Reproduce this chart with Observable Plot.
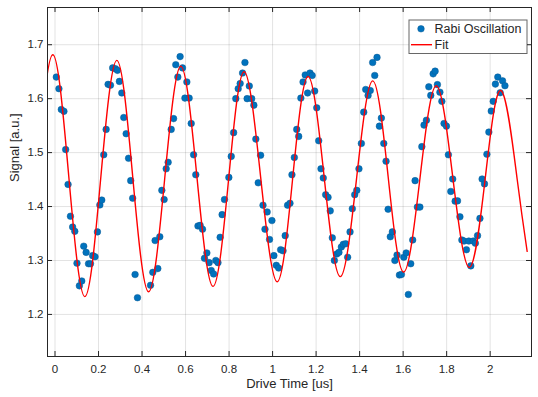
<!DOCTYPE html>
<html>
<head>
<meta charset="utf-8">
<script src="https://cdn.jsdelivr.net/npm/d3@7"></script>
<script src="https://cdn.jsdelivr.net/npm/@observablehq/plot@0.6"></script>
<style>
  html, body { margin: 0; padding: 0; background: #ffffff; }
  svg { display: block; }
</style>
</head>
<body>
<div id="chart"></div>
<script>
const driveTime = [
  0.006,0.018,0.029,0.041,0.049,0.060,0.071,0.081,0.091,0.101,0.112,0.123,0.132,0.143,0.154,0.163,0.173,0.184,0.195,0.206,0.215,0.224,0.235,0.244,0.255,
  0.265,0.278,0.287,0.296,0.307,0.316,0.327,0.338,0.348,0.357,0.368,0.379,0.439,0.4495,0.460,0.4725,0.4817,0.491,0.5015,0.511,0.520,
  0.534,0.545,0.555,0.5645,0.575,0.586,0.597,0.606,0.6165,0.626,0.637,0.647,0.657,0.667,0.678,0.687,0.698,0.7085,0.718,0.729,0.739,0.749,0.759,0.768,0.779,
  0.799,0.810,0.821,0.831,0.842,0.851,0.862,0.873,0.883,0.893,0.904,0.914,0.923,0.934,0.945,0.956,0.965,0.975,0.986,0.997,1.006,1.017,1.028,1.037,1.048,
  1.058,1.069,1.080,1.089,1.100,1.111,1.120,1.130,1.140,1.150,1.161,1.172,1.182,1.1935,1.203,1.212,1.2225,1.233,1.244,1.255,1.265,1.2745,1.284,1.295,1.305,1.316,
  1.325,1.336,1.345,1.356,1.3665,1.3775,1.387,1.397,1.408,1.419,1.428,1.439,1.449,1.460,1.4695,1.480,1.491,1.500,1.511,1.5215,1.531,1.541,1.5505,1.562,1.572,1.583,
  1.592,1.603,1.614,1.624,1.635,1.644,1.655,1.6655,1.677,1.686,1.696,1.707,1.718,1.727,1.738,1.747,1.7575,1.769,1.778,1.788,1.799,1.808,1.819,1.828,1.839,1.850,
  1.861,1.870,1.880,1.891,1.902,1.911,1.922,1.932,1.942,1.953,1.963,1.974,1.985,1.994,2.005,2.014,2.024,2.035,2.046,2.057,2.068
];
const signal = [
  1.640,1.6185,1.580,1.5765,1.5056,1.441,1.382,1.362,1.354,1.295,1.253,1.262,1.3265,1.315,1.294,1.294,1.309,1.307,1.353,1.403,1.412,1.496,1.543,1.6265,1.625,
  1.657,1.6555,1.6525,1.632,1.6105,1.565,1.535,1.4895,1.448,1.4155,1.274,1.231,1.254,1.278,1.337,1.285,1.344,1.430,1.413,1.470,1.482,
  1.543,1.563,1.663,1.640,1.678,1.657,1.601,1.631,1.601,1.554,1.496,1.459,1.364,1.365,1.358,1.304,1.314,1.296,1.2815,1.275,1.300,1.296,1.343,1.385,1.413,
  1.454,1.493,1.537,1.600,1.6185,1.628,1.6475,1.667,1.600,1.6235,1.600,1.588,1.525,1.444,1.495,1.4025,1.358,1.390,1.339,1.374,1.309,1.291,1.286,1.320,1.318,
  1.346,1.4025,1.406,1.459,1.491,1.543,1.530,1.601,1.631,1.644,1.6105,1.6475,1.643,1.614,1.583,1.522,1.470,1.453,1.422,1.417,1.392,1.342,1.300,1.312,1.315,1.325,
  1.330,1.331,1.306,1.353,1.396,1.422,1.430,1.470,1.517,1.575,1.617,1.606,1.615,1.667,1.643,1.6765,1.549,1.564,1.517,1.484,1.395,1.344,1.353,1.300,1.310,1.273,
  1.274,1.306,1.314,1.237,1.294,1.338,1.448,1.399,1.399,1.511,1.551,1.560,1.622,1.606,1.646,1.651,1.626,1.612,1.595,1.554,1.549,1.496,1.428,1.451,1.410,1.4105,
  1.381,1.338,1.336,1.320,1.336,1.290,1.336,1.332,1.346,1.378,1.451,1.442,1.497,1.538,1.577,1.595,1.627,1.640,1.611,1.633,1.624
];
// Fit curve, read at its peaks, troughs and mid-crossings (clipped to the axes)
const fitTime = [
  -0.084,-0.010,0.063,0.137,0.210,0.284,0.357,0.430,0.504,0.578,0.652,0.726,0.798,0.869,0.945,1.021,
  1.092,1.163,1.237,1.311,1.386,1.460,1.531,1.602,1.677,1.752,1.828,1.904,1.977,2.050,2.124,2.170
];
const fitSignal = [
  1.457,1.6815,1.457,1.233,1.452,1.671,1.456,1.242,1.451,1.660,1.456,1.252,1.451,1.650,1.455,1.2605,
  1.451,1.641,1.455,1.270,1.452,1.633,1.456,1.2785,1.451,1.624,1.455,1.287,1.451,1.615,1.451,1.317
];
const xTicks = [0, 0.2, 0.4, 0.6, 0.8, 1, 1.2, 1.4, 1.6, 1.8, 2];
const yTicks = [1.2, 1.3, 1.4, 1.5, 1.6, 1.7];
const xLabel = "Drive Time [us]";
const yLabel = "Signal [a.u.]";
const legendLabels = ["Rabi Oscillation", "Fit"];

const rabi = driveTime.map((t, i) => ({t, s: signal[i]}));
const fit = fitTime.map((t, i) => ({t, s: fitSignal[i]}));

const W = 538, H = 397, mL = 47, mR = 7, mT = 7, mB = 41;
const innerW = W - mL - mR, innerH = H - mT - mB;
const ink = "#262626";
const font = "'Liberation Sans', Arial, Helvetica, sans-serif";

const chart = Plot.plot({
  width: W, height: H,
  marginLeft: mL, marginRight: mR, marginTop: mT, marginBottom: mB,
  style: {background: "#ffffff", fontFamily: font, fontSize: "11.5px", color: ink},
  x: {domain: [-0.0345, 2.19]},
  y: {domain: [1.122, 1.769]},
  marks: [
    Plot.gridX(xTicks, {stroke: ink, strokeOpacity: 0.13, strokeWidth: 1}),
    Plot.gridY(yTicks, {stroke: ink, strokeOpacity: 0.13, strokeWidth: 1}),
    Plot.dot(rabi, {x: "t", y: "s", r: 3.3, fill: "#0072BD", stroke: "#0a5a94", strokeWidth: 0.5}),
    Plot.line(fit, {x: "t", y: "s", curve: "natural", stroke: "#ff0000", strokeWidth: 1.4, clip: true}),
    // inward ticks on all four sides
    Plot.tickX(xTicks, {x: d => d, insetTop: innerH - 5, stroke: ink}),
    Plot.tickX(xTicks, {x: d => d, insetBottom: innerH - 5, stroke: ink}),
    Plot.tickY(yTicks, {y: d => d, insetRight: innerW - 5, stroke: ink}),
    Plot.tickY(yTicks, {y: d => d, insetLeft: innerW - 5, stroke: ink}),
    Plot.axisX(xTicks, {tickSize: 0, tickPadding: 8, tickFormat: d => String(d), label: null, fill: ink, fontSize: 11.5}),
    Plot.axisY(yTicks, {tickSize: 0, tickPadding: 4, tickFormat: d => String(d), label: null, fill: ink, fontSize: 11.5}),
    Plot.frame({stroke: ink, strokeWidth: 1}),
    Plot.text([xLabel], {text: d => d, frameAnchor: "bottom", dy: 31, fontSize: 13, fill: ink}),
    Plot.text([yLabel], {text: d => d, frameAnchor: "left", rotate: -90, dx: -33, fontSize: 13, fill: ink})
  ]
});

// Legend (inside the axes, top-right)
const svg = d3.select(chart);
const lg = svg.append("g").attr("font-family", font).attr("font-size", 12.5)
  .attr("fill", ink).attr("text-anchor", "start");
lg.append("rect").attr("x", 409).attr("y", 20).attr("width", 118).attr("height", 33.5)
  .attr("fill", "#ffffff").attr("stroke", "#262626").attr("stroke-opacity", 0.7).attr("stroke-width", 1);
lg.append("circle").attr("cx", 421).attr("cy", 28.8).attr("r", 3.3)
  .attr("fill", "#0072BD").attr("stroke", "#0a5a94").attr("stroke-width", 0.5);
lg.append("line").attr("x1", 411).attr("x2", 432).attr("y1", 44.7).attr("y2", 44.7)
  .attr("stroke", "#ff0000").attr("stroke-width", 1.4);
lg.append("text").attr("x", 434.5).attr("y", 28.8).attr("dy", "0.35em").text(legendLabels[0]);
lg.append("text").attr("x", 434.5).attr("y", 44.7).attr("dy", "0.35em").text(legendLabels[1]);

document.getElementById("chart").appendChild(chart);
</script>
</body>
</html>
